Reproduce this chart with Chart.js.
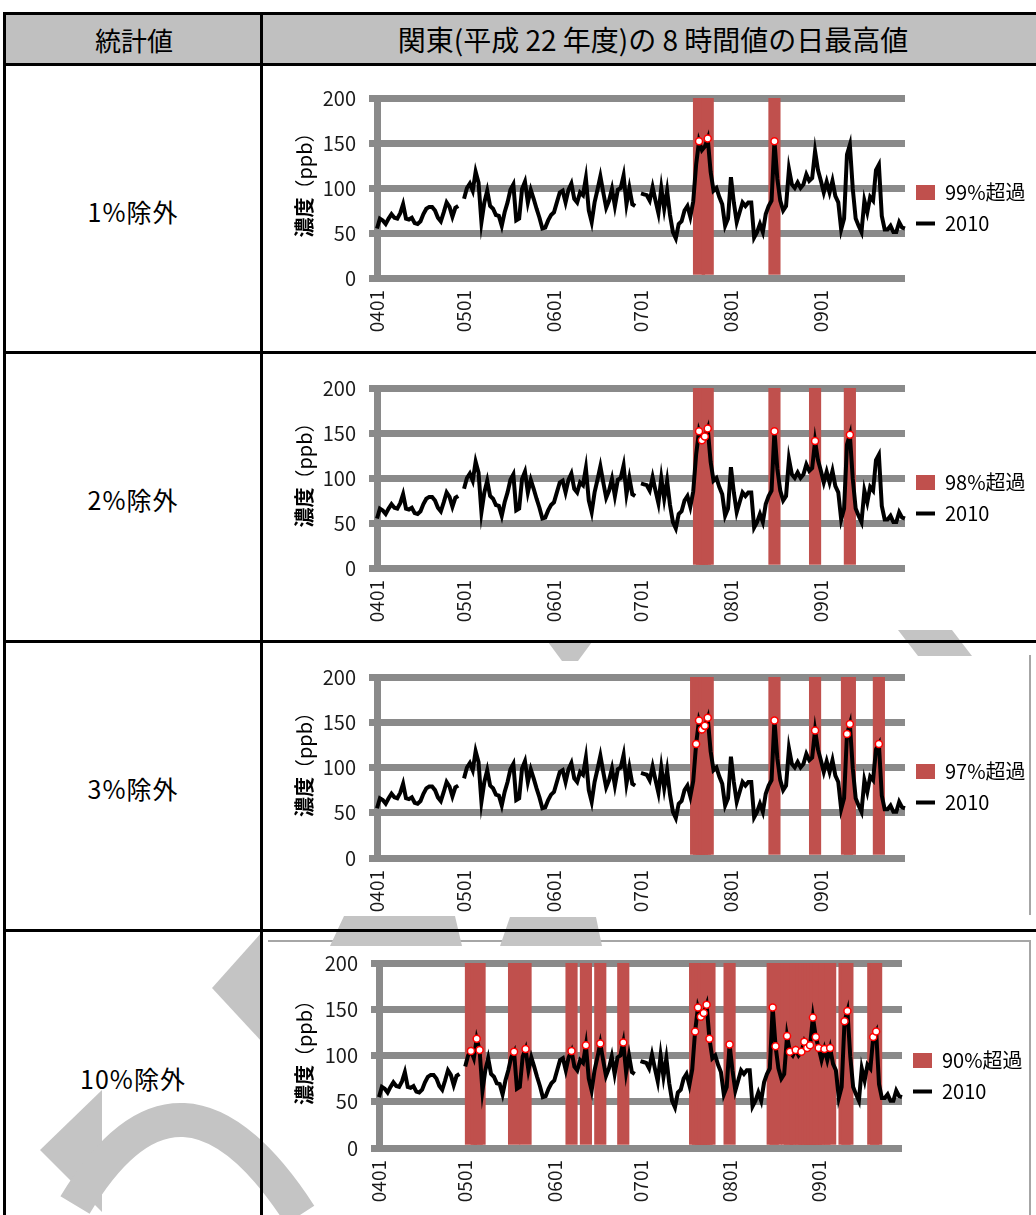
<!DOCTYPE html>
<html>
<head>
<meta charset="utf-8">
<script src="https://cdn.jsdelivr.net/npm/chart.js@4.4.0/dist/chart.umd.min.js"></script>
<style>
  body { margin: 0; width: 1036px; height: 1215px; overflow: hidden; background: #fff; position: relative;
         font-family: "Noto Sans CJK JP", sans-serif; }
  .bar { position: absolute; background: #000; }
  .hdr { position: absolute; background: #c0c0c0; }
  .frame { position: absolute; background: #a6a6a6; }
  .txt { position: absolute; transform: translate(-50%, -50%); white-space: nowrap; color: #000; }
  .row { font-size: 25px; letter-spacing: 1px; }
  canvas { position: absolute; }
  svg { position: absolute; left: 0; top: 0; }
</style>
</head>
<body>
<div class="hdr" style="left:6px;top:15px;width:1030px;height:48px"></div>
<div class="txt" style="left:134px;top:39px;font-size:26px">統計値</div>
<div class="txt" style="left:653px;top:39px;font-size:28px">関東(平成 22 年度)の 8 時間値の日最高値</div>

<svg width="1036" height="1215">
  <g fill="#c4c4c4">
    <polygon points="40,1150 102,1090 102,1212" />
    <polygon points="212,988 262,932 262,1042" />
  </g>
  <path d="M 75 1205 Q 180 1030 300 1215" stroke="#c4c4c4" stroke-width="34" fill="none" />
</svg>

<div class="txt row" style="left:133px;top:211px">1%除外</div>
<div class="txt row" style="left:133px;top:499px">2%除外</div>
<div class="txt row" style="left:133px;top:788px">3%除外</div>
<div class="txt row" style="left:133px;top:1078px">10%除外</div>

<canvas id="c0" width="773" height="285" style="left:263px;top:66px"></canvas>
<canvas id="c1" width="773" height="286" style="left:263px;top:354px"></canvas>
<canvas id="c2" width="773" height="286" style="left:263px;top:643px"></canvas>
<canvas id="c3" width="773" height="283" style="left:263px;top:932px"></canvas>

<div class="frame" style="left:1029px;top:655px;width:2px;height:260px"></div>
<div class="frame" style="left:268px;top:940px;width:762px;height:2px"></div>
<div class="frame" style="left:1029px;top:940px;width:2px;height:275px"></div>

<svg width="1036" height="1215">
  <g fill="#c4c4c4">
    <polygon points="548,642 592,642 578,661 562,661" />
    <polygon points="898,630 952,630 972,656 918,656" />
    <polygon points="330,946 344,916 455,916 462,946" />
    <polygon points="500,946 510,917 596,917 602,946" />
  </g>
</svg>

<div class="bar" style="left:3px;top:12px;width:1033px;height:3px"></div>
<div class="bar" style="left:3px;top:63px;width:1033px;height:3px"></div>
<div class="bar" style="left:3px;top:351px;width:1033px;height:3px"></div>
<div class="bar" style="left:3px;top:640px;width:1033px;height:3px"></div>
<div class="bar" style="left:3px;top:929px;width:1033px;height:3px"></div>
<div class="bar" style="left:3px;top:12px;width:3px;height:1203px"></div>
<div class="bar" style="left:260px;top:12px;width:3px;height:1203px"></div>

<script>
// daily max of 8-hour values, 2010 (ppb), 0401 .. 0930
const aprVals = [55, 66, 64, 60, 66, 71, 67, 66, 72, 82, 66, 65, 67, 61, 60, 63, 71, 77, 79, 79,
                 75, 67, 63, 73, 84, 79, 68, 78, 80, null];
const mayVals = [88, 100, 105, 97, 118, 106, 62, 84, 97, 80, 77, 70, 69, 58, 73, 84, 98, 104, 64, 66,
                 99, 107, 84, 98, 88, 77, 67, 55, 56, 64, 70];
const junVals = [73, 84, 95, 97, 84, 98, 105, 88, 84, 95, 92, 111, 75, 62, 84, 98, 113, 95, 78, 86,
                 99, 80, 98, 100, 114, 82, 100, 82, 80, null];
const julVals = [94, 93, 92, 86, 101, 86, 72, 100, 77, 97, 70, 51, 44, 60, 63, 75, 80, 68, 85, 126,
                 152, 142, 146, 155, 118, 97, 100, 90, 82, 58, 66];
const augVals = [112, 84, 62, 73, 84, 80, 84, 84, 45, 51, 60, 51, 71, 80, 86, 152, 110, 86, 75, 80,
                 121, 104, 100, 106, 100, 104, 115, 108, 111, 141, 120];
const sepVals = [108, 95, 107, 95, 108, 91, 84, 54, 66, 137, 148, 99, 66, 58, 51, 86, 73, 90, 86, 120,
                 126, 69, 54, 54, 58, 51, 51, 62, 56, 55];

const months = ['04', '05', '06', '07', '08', '09'];
const monthDays = [30, 31, 30, 31, 31, 30];
const tickLabels = ['0401', '0501', '0601', '0701', '0801', '0901'];

// days above each percentile
const exceed99 = ['0721', '0724', '0816'];
const exceed98 = ['0721', '0722', '0723', '0724', '0816', '0830', '0911'];
const exceed97 = ['0720', '0721', '0722', '0723', '0724', '0816', '0830', '0910', '0911', '0921'];
const exceed90 = ['0503', '0505', '0506', '0518', '0522', '0607', '0612', '0617', '0625',
                  '0720', '0721', '0722', '0723', '0724', '0725', '0801', '0816', '0817',
                  '0821', '0822', '0824', '0826', '0827', '0828', '0829', '0830', '0831',
                  '0901', '0903', '0905', '0910', '0911', '0920', '0921'];

const exceedLabels = ['99%超過', '98%超過', '97%超過', '90%超過'];

const days = [];
months.forEach((m, i) => {
    for (let d = 1; d <= monthDays[i]; d++) days.push(m + String(d).padStart(2, '0'));
});
const values2010 = [...aprVals, ...mayVals, ...junVals, ...julVals, ...augVals, ...sepVals];

const FONT = '"Noto Sans CJK JP", sans-serif';
const GRID = '#8a8a8a';
const RED = '#C0504D';

// plot box of each chart, in canvas pixels; mid = legend centre
const plots = [
    { left: 114, right: 642, top: 32, bottom: 212, mid: 142 },
    { left: 114, right: 642, top: 34, bottom: 214, mid: 144 },
    { left: 114, right: 642, top: 34, bottom: 215, mid: 144 },
    { left: 116, right: 639, top: 31, bottom: 216, mid: 144 },
];
const exceedSets = [exceed99, exceed98, exceed97, exceed90];

// y title: bold 濃度 + normal (ppb), rotated
const yTitle = {
    id: 'yTitle',
    afterDraw(chart, args, opts) {
        const { ctx, chartArea } = chart;
        const cy = (chartArea.top + chartArea.bottom) / 2 - 9;
        ctx.save();
        ctx.translate(opts.x, cy);
        ctx.rotate(-Math.PI / 2);
        ctx.fillStyle = '#000';
        ctx.textBaseline = 'middle';
        ctx.textAlign = 'left';
        ctx.font = 'bold 20px ' + FONT;
        const w1 = ctx.measureText('濃度').width;
        ctx.font = '20px ' + FONT;
        const w2 = ctx.measureText('（ppb）').width;
        const x = -(w1 + w2) / 2;
        ctx.font = 'bold 20px ' + FONT;
        ctx.fillText('濃度', x, 0);
        ctx.font = '20px ' + FONT;
        ctx.fillText('（ppb）', x + w1 - 2, 0);
        ctx.restore();
    }
};

function makeChart(idx) {
    const canvas = document.getElementById('c' + idx);
    const H = canvas.height;
    const want = plots[idx];
    const exceed = exceedSets[idx];
    const bars = days.map(d => exceed.includes(d) ? 200 : null);
    const marks = days.map((d, i) => exceed.includes(d) ? values2010[i] : null);

    const chart = new Chart(canvas, {
        type: 'line',
        data: {
            labels: days,
            datasets: [
                {
                    type: 'bar',
                    label: exceedLabels[idx],
                    data: bars,
                    backgroundColor: RED,
                    barThickness: 11.5,
                    pointStyle: 'rect',
                    order: 3,
                },
                {
                    label: '2010',
                    data: values2010,
                    borderColor: '#000',
                    backgroundColor: '#000',
                    borderWidth: 4,
                    pointRadius: 0,
                    pointStyle: 'line',
                    tension: 0,
                    spanGaps: false,
                    order: 2,
                },
                {
                    label: 'exceed',
                    data: marks,
                    showLine: false,
                    pointRadius: 3.5,
                    pointBackgroundColor: '#fff',
                    pointBorderColor: '#ff0000',
                    pointBorderWidth: 1.5,
                    order: 1,
                },
            ],
        },
        options: {
            responsive: false,
            animation: false,
            devicePixelRatio: 1,
            layout: { padding: { left: 0, right: 131, top: want.top, bottom: 0 } },
            plugins: {
                tooltip: { enabled: false },
                yTitle: { x: 41 },
                legend: {
                    position: 'right',
                    align: 'start',
                    // empty title only used as a spacer to place the items
                    title: { display: true, text: '', padding: { top: 60, bottom: 0 } },
                    labels: {
                        usePointStyle: true,
                        pointStyleWidth: 19,
                        boxHeight: 15,
                        padding: 11,
                        color: '#000',
                        font: { family: FONT, size: 20 },
                        filter: item => item.datasetIndex !== 2,
                        sort: (a, b) => a.datasetIndex - b.datasetIndex,
                    },
                },
            },
            scales: {
                x: {
                    offset: false,
                    grid: { display: false, drawTicks: false },
                    border: { display: false },
                    ticks: {
                        autoSkip: false,
                        minRotation: 90,
                        maxRotation: 90,
                        padding: 12,
                        color: '#1a1a1a',
                        font: { family: FONT, size: 19 },
                        callback: function (v) {
                            const l = this.getLabelForValue(v);
                            return tickLabels.includes(l) ? l : null;
                        },
                    },
                    afterFit: s => { s.height = H - want.bottom; },
                },
                y: {
                    min: 0,
                    max: 200,
                    grid: { color: GRID, lineWidth: 7, tickLength: 8 },
                    border: { display: true, color: GRID, width: 7 },
                    ticks: {
                        stepSize: 50,
                        padding: 13,
                        color: '#1a1a1a',
                        font: { family: FONT, size: 20 },
                    },
                    afterFit: s => { s.width = want.left; },
                },
            },
        },
        plugins: [yTitle],
    });

    // nudge the padding so the plot box and legend land where they should
    for (let k = 0; k < 3; k++) {
        const a = chart.chartArea;
        const opts = chart.options;
        opts.layout.padding.right += a.right - want.right;
        opts.layout.padding.top += want.top - a.top;
        const hb = chart.legend.legendHitBoxes;
        if (hb && hb.length > 1) {
            const mid = (hb[0].top + hb[1].top + hb[1].height) / 2;
            opts.plugins.legend.title.padding.top += want.mid - mid;
        }
        chart.update('none');
    }
    return chart;
}

[0, 1, 2, 3].forEach(makeChart);
</script>
</body>
</html>
